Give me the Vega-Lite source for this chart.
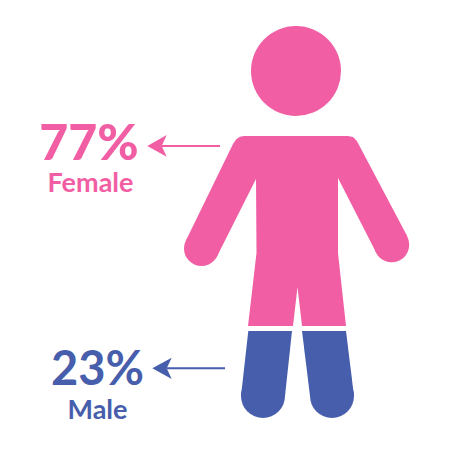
{"$schema":"https://vega.github.io/schema/vega-lite/v6.json","width":450,"height":450,"padding":0,"autosize":{"type":"none"},"background":"white","view":{"stroke":null},
"datasets":{
"outline":[
{"part":"body","group":"Female","seq":1,"x":244,"y":136},{"part":"body","group":"Female","seq":2,"x":348,"y":136},{"part":"body","group":"Female","seq":3,"x":353,"y":137},{"part":"body","group":"Female","seq":4,"x":356.5,"y":140.5},{"part":"body","group":"Female","seq":5,"x":359,"y":145},{"part":"body","group":"Female","seq":6,"x":407.4,"y":236.6},{"part":"body","group":"Female","seq":7,"x":376.6,"y":253.4},{"part":"body","group":"Female","seq":8,"x":338,"y":178},{"part":"body","group":"Female","seq":9,"x":338,"y":253},{"part":"body","group":"Female","seq":10,"x":346,"y":326},{"part":"body","group":"Female","seq":11,"x":302,"y":326},{"part":"body","group":"Female","seq":12,"x":297.5,"y":287},{"part":"body","group":"Female","seq":13,"x":293,"y":326},{"part":"body","group":"Female","seq":14,"x":248,"y":326},{"part":"body","group":"Female","seq":15,"x":256.5,"y":253},{"part":"body","group":"Female","seq":16,"x":256,"y":179},{"part":"body","group":"Female","seq":17,"x":217.2,"y":256.1},{"part":"body","group":"Female","seq":18,"x":185.7,"y":240.9},{"part":"body","group":"Female","seq":19,"x":233,"y":144},{"part":"body","group":"Female","seq":20,"x":236,"y":139.5},{"part":"body","group":"Female","seq":21,"x":240,"y":136.8},
{"part":"legL","group":"Male","seq":1,"x":248.3,"y":331},{"part":"legL","group":"Male","seq":2,"x":292,"y":331},{"part":"legL","group":"Male","seq":3,"x":285,"y":396},{"part":"legL","group":"Male","seq":4,"x":241,"y":396},
{"part":"legR","group":"Male","seq":1,"x":302,"y":331},{"part":"legR","group":"Male","seq":2,"x":346,"y":331},{"part":"legR","group":"Male","seq":3,"x":354,"y":396},{"part":"legR","group":"Male","seq":4,"x":310,"y":396},
{"part":"headF","group":"Female","seq":1,"x":147.3,"y":146},{"part":"headF","group":"Female","seq":2,"x":166.7,"y":135},{"part":"headF","group":"Female","seq":3,"x":161.7,"y":146},{"part":"headF","group":"Female","seq":4,"x":166.7,"y":156.7},
{"part":"headM","group":"Male","seq":1,"x":152.3,"y":368.3},{"part":"headM","group":"Male","seq":2,"x":171.7,"y":357.7},{"part":"headM","group":"Male","seq":3,"x":166.7,"y":368.3},{"part":"headM","group":"Male","seq":4,"x":171.7,"y":379}
],
"shafts":[
{"part":"f","group":"Female","x":162,"y":146},{"part":"f","group":"Female","x":220,"y":146},
{"part":"m","group":"Male","x":167,"y":368.3},{"part":"m","group":"Male","x":225,"y":368.3}
],
"circles":[
{"part":"head","group":"Female","x":296,"y":71,"d":90},
{"part":"handL","group":"Female","x":201.5,"y":248.5,"d":35},
{"part":"handR","group":"Female","x":391.7,"y":244.8,"d":35},
{"part":"footL","group":"Male","x":263,"y":396,"d":44},
{"part":"footR","group":"Male","x":332,"y":396,"d":44}
],
"labels":[
{"label":"77%","group":"Female","x":89,"y":160,"kind":"value"},
{"label":"Female","group":"Female","x":90.5,"y":192,"kind":"name"},
{"label":"23%","group":"Male","x":97.5,"y":385,"kind":"value"},
{"label":"Male","group":"Male","x":97.5,"y":419,"kind":"name"}
]},
"encoding":{
"x":{"field":"x","type":"quantitative","scale":{"domain":[0,450]},"axis":null},
"y":{"field":"y","type":"quantitative","scale":{"domain":[450,0]},"axis":null}
},
"resolve":{"scale":{"size":"independent"}},
"layer":[
{"data":{"name":"outline"},"mark":{"type":"line","interpolate":"linear-closed","strokeWidth":0,"fill":"#f15ea4"},
 "encoding":{"detail":{"field":"part"},"order":{"field":"seq","type":"quantitative"},
 "fill":{"field":"group","type":"nominal","scale":{"domain":["Female","Male"],"range":["#f15ea4","#465eab"]},"legend":null}}},
{"data":{"name":"shafts"},"mark":{"type":"line","strokeWidth":2},
 "encoding":{"detail":{"field":"part"},"color":{"field":"group","type":"nominal","scale":{"domain":["Female","Male"],"range":["#f15ea4","#465eab"]},"legend":null}}},
{"data":{"name":"circles"},"mark":{"type":"point","shape":"circle","filled":true,"opacity":1,"strokeWidth":0},
 "encoding":{"size":{"field":"d","type":"quantitative","scale":{"type":"pow","exponent":2,"domain":[0,90],"range":[0,8100]},"legend":null},
 "color":{"field":"group","type":"nominal","scale":{"domain":["Female","Male"],"range":["#f15ea4","#465eab"]},"legend":null}}},
{"data":{"name":"labels"},"transform":[{"filter":"datum.label=='77%'"}],"mark":{"type":"text","font":"Lato","fontWeight":900,"fontSize":50,"align":"center","baseline":"alphabetic"},
 "encoding":{"text":{"field":"label"},"color":{"field":"group","type":"nominal","scale":{"domain":["Female","Male"],"range":["#f15ea4","#465eab"]},"legend":null}}},
{"data":{"name":"labels"},"transform":[{"filter":"datum.label=='23%'"}],"mark":{"type":"text","font":"Lato","fontWeight":"bold","fontSize":47,"align":"center","baseline":"alphabetic"},
 "encoding":{"text":{"field":"label"},"color":{"field":"group","type":"nominal","scale":{"domain":["Female","Male"],"range":["#f15ea4","#465eab"]},"legend":null}}},
{"data":{"name":"labels"},"transform":[{"filter":"datum.kind=='name'"}],"mark":{"type":"text","font":"Lato","fontWeight":"bold","fontSize":27,"align":"center","baseline":"alphabetic"},
 "encoding":{"text":{"field":"label"},"color":{"field":"group","type":"nominal","scale":{"domain":["Female","Male"],"range":["#f15ea4","#465eab"]},"legend":null}}}
]}
